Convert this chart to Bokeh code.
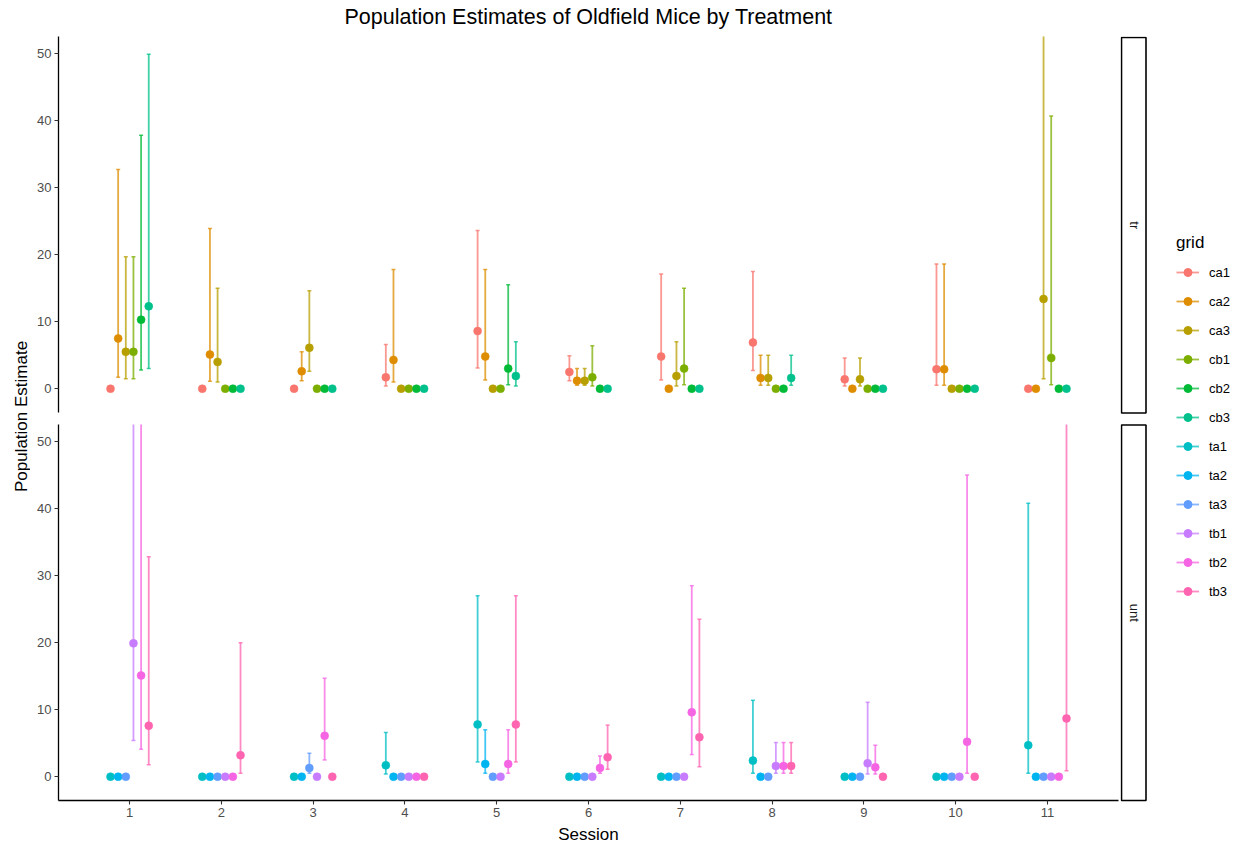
import math
from bokeh.plotting import figure
from bokeh.models import ColumnDataSource, Range1d, Label, FixedTicker, Legend, LegendItem
from bokeh.layouts import column, row
from bokeh.embed import file_html
from bokeh.resources import INLINE
from bokeh.transform import dodge
from bokeh.core.properties import value

FONT = "Liberation Sans"

sessions = [1, 2, 3, 4, 5, 6, 7, 8, 9, 10, 11]
tr_grids = ["ca1", "ca2", "ca3", "cb1", "cb2", "cb3"]
unt_grids = ["ta1", "ta2", "ta3", "tb1", "tb2", "tb3"]
grid_colors = ["#F8766D", "#DE8C00", "#B79F00", "#7CAE00", "#00BA38", "#00C08B",
               "#00BFC4", "#00B4F0", "#619CFF", "#C77CFF", "#F564E3", "#FF64B0"]
y_ticks = [0, 10, 20, 30, 40, 50]
N = None

# treatment "tr"
ca1_est = [0, 0, 0, 1.7, 8.6, 2.5, 4.8, 6.9, 1.4, 2.9, 0]
ca1_lo = [N, N, N, 0.4, 3.1, 1.2, 1.3, 2.7, 0.4, 0.5, N]
ca1_hi = [N, N, N, 6.6, 23.6, 4.9, 17.1, 17.5, 4.6, 18.6, N]
ca2_est = [7.5, 5.1, 2.6, 4.3, 4.8, 1.2, 0, 1.6, 0, 2.9, 0]
ca2_lo = [1.7, 1.1, 1.2, 1.0, 1.3, 0.5, N, 0.5, N, 0.5, N]
ca2_hi = [32.7, 23.9, 5.5, 17.8, 17.8, 3.0, N, 5.0, N, 18.6, N]
ca3_est = [5.5, 4.0, 6.1, 0, 0, 1.2, 1.9, 1.6, 1.4, 0, 13.4]
ca3_lo = [1.5, 1.0, 2.6, N, N, 0.5, 0.4, 0.5, 0.4, N, 1.5]
ca3_hi = [19.7, 15.0, 14.6, N, N, 3.0, 7.0, 5.0, 4.6, N, 62.0]
cb1_est = [5.5, 0, 0, 0, 0, 1.7, 3.0, 0, 0, 0, 4.6]
cb1_lo = [1.5, N, N, N, N, 0.4, 0.6, N, N, N, 0.6]
cb1_hi = [19.7, N, N, N, N, 6.4, 15.0, N, N, N, 40.7]
cb2_est = [10.3, 0, 0, 0, 3.0, 0, 0, 0, 0, 0, 0]
cb2_lo = [2.8, N, N, N, 0.6, N, N, N, N, N, N]
cb2_hi = [37.8, N, N, N, 15.5, N, N, N, N, N, N]
cb3_est = [12.3, 0, 0, 0, 1.9, 0, 0, 1.6, 0, 0, 0]
cb3_lo = [3.0, N, N, N, 0.4, N, N, 0.5, N, N, N]
cb3_hi = [49.9, N, N, N, 7.0, N, N, 5.0, N, N, N]

# untreated "unt"
ta1_est = [0, 0, 0, 1.7, 7.8, 0, 0, 2.4, 0, 0, 4.7]
ta1_lo = [N, N, N, 0.4, 2.2, N, N, 0.5, N, N, 0.5]
ta1_hi = [N, N, N, 6.6, 27.0, N, N, 11.4, N, N, 40.8]
ta2_est = [0, 0, 0, 0, 1.9, 0, 0, 0, 0, 0, 0]
ta2_lo = [N, N, N, N, 0.5, N, N, N, N, N, N]
ta2_hi = [N, N, N, N, 7.0, N, N, N, N, N, N]
ta3_est = [0, 0, 1.3, 0, 0, 0, 0, 0, 0, 0, 0]
ta3_lo = [N, N, 0.5, N, N, N, N, N, N, N, N]
ta3_hi = [N, N, 3.5, N, N, N, N, N, N, N, N]
tb1_est = [19.9, 0, 0, 0, 0, 0, 0, 1.6, 2.0, 0, 0]
tb1_lo = [5.4, N, N, N, N, N, N, 0.5, 0.4, N, N]
tb1_hi = [75.0, N, N, N, N, N, N, 5.1, 11.1, N, N]
tb2_est = [15.1, 0, 6.1, 0, 1.9, 1.3, 9.6, 1.6, 1.4, 5.2, 0]
tb2_lo = [4.1, N, 2.5, N, 0.5, 0.5, 3.3, 0.5, 0.4, 0.5, N]
tb2_hi = [65.0, N, 14.7, N, 7.0, 3.1, 28.5, 5.1, 4.7, 45.0, N]
tb3_est = [7.6, 3.2, 0, 0, 7.8, 2.9, 5.9, 1.6, 0, 0, 8.7]
tb3_lo = [1.8, 0.5, N, N, 2.2, 1.1, 1.5, 0.5, N, N, 0.9]
tb3_hi = [32.8, 20.0, N, N, 27.0, 7.7, 23.5, 5.1, N, N, 58.0]

tr_est = [ca1_est, ca2_est, ca3_est, cb1_est, cb2_est, cb3_est]
tr_lo = [ca1_lo, ca2_lo, ca3_lo, cb1_lo, cb2_lo, cb3_lo]
tr_hi = [ca1_hi, ca2_hi, ca3_hi, cb1_hi, cb2_hi, cb3_hi]
unt_est = [ta1_est, ta2_est, ta3_est, tb1_est, tb2_est, tb3_est]
unt_lo = [ta1_lo, ta2_lo, ta3_lo, tb1_lo, tb2_lo, tb3_lo]
unt_hi = [ta1_hi, ta2_hi, ta3_hi, tb1_hi, tb2_hi, tb3_hi]


def nan(v):
    return float("nan") if v is None else v


x_range = Range1d(0.225, 11.775)


def style_axis(ax):
    ax.axis_line_color = "black"
    ax.axis_line_width = 1.3
    ax.major_tick_line_color = "#333333"
    ax.major_tick_line_width = 1.1
    ax.major_tick_out = 4
    ax.major_tick_in = 0
    ax.minor_tick_line_color = None
    ax.major_label_text_color = "#4D4D4D"
    ax.major_label_text_font = FONT
    ax.major_label_text_font_size = "13px"
    ax.major_label_standoff = 3


def make_panel(grids, colors, est, lo, hi, height, top, bottom, show_x):
    p = figure(width=1090, height=height, x_range=x_range,
               y_range=Range1d(-3.55, 52.55), output_backend="svg",
               toolbar_location=None,
               x_axis_location="below" if show_x else None,
               min_border_left=28, min_border_right=2,
               min_border_top=top, min_border_bottom=bottom,
               outline_line_color=None)
    p.xgrid.visible = False
    p.ygrid.visible = False
    p.yaxis.ticker = FixedTicker(ticks=y_ticks)
    style_axis(p.yaxis[0])
    if show_x:
        p.xaxis.ticker = FixedTicker(ticks=sessions)
        style_axis(p.xaxis[0])
        p.xaxis.axis_label = "Session"
        p.xaxis.axis_label_text_font = FONT
        p.xaxis.axis_label_text_font_style = "normal"
        p.xaxis.axis_label_text_font_size = "17px"
        p.xaxis.axis_label_text_color = "black"
        p.xaxis.axis_label_standoff = 5
    n = len(grids)
    for k, g in enumerate(grids):
        off = (k - (n - 1) / 2) * 0.5 / n
        src = ColumnDataSource(dict(session=sessions, est=est[k],
                                    lo=[nan(v) for v in lo[k]],
                                    hi=[nan(v) for v in hi[k]]))
        xs = dodge("session", off)
        c = colors[k]
        p.segment(x0=xs, y0="lo", x1=xs, y1="hi", source=src,
                  line_color=c, line_width=1.8, line_alpha=0.75)
        p.scatter(x=xs, y="lo", source=src, marker="dash", size=4,
                  line_color=c, line_width=1.5, line_alpha=0.75)
        p.scatter(x=xs, y="hi", source=src, marker="dash", size=4,
                  line_color=c, line_width=1.5, line_alpha=0.75)
        p.scatter(x=xs, y="est", source=src, size=8, fill_color=c,
                  line_color=c, line_width=0.5)
    return p


top_fig = make_panel(tr_grids, grid_colors[:6], tr_est, tr_lo, tr_hi,
                     382, 0, 6, False)
bot_fig = make_panel(unt_grids, grid_colors[6:], unt_est, unt_lo, unt_hi,
                     429, 6, 47, True)


def blank(width, height):
    p = figure(width=width, height=height, x_range=Range1d(0, width),
               y_range=Range1d(height, 0), output_backend="svg",
               toolbar_location=None, x_axis_location=None,
               y_axis_location=None, min_border=0, outline_line_color=None)
    p.xgrid.visible = False
    p.ygrid.visible = False
    return p


# title
title_fig = blank(1241, 36)
title_fig.add_layout(Label(x=588, y=16, text="Population Estimates of Oldfield Mice by Treatment",
                           text_font=FONT, text_font_size="21.5px", text_color="black",
                           text_align="center", text_baseline="middle"))

# y axis title
ylab_fig = blank(30, 811)
ylab_fig.text(x=[21], y=[380], text=["Population Estimate"], angle=math.pi / 2,
              text_font=value(FONT), text_font_size="17px", text_color="black",
              text_align="center", text_baseline="middle")


# facet strips
def strip(height, y0, y1, text):
    p = blank(27, height)
    p.quad(left=[1.0], right=[25.5], top=[y0], bottom=[y1], fill_color="white",
           line_color="black", line_width=1.6)
    p.add_layout(Label(x=13.5, y=(y0 + y1) / 2, text=text, angle=-math.pi / 2,
                       text_font=FONT, text_font_size="13px", text_color="#1A1A1A",
                       text_align="center", text_baseline="middle"))
    return p


strip_top = strip(382, 1.0, 376.5, "tr")
strip_bot = strip(429, 6.5, 382.0, "unt")

# legend
leg_fig = figure(width=94, height=811, output_backend="svg", toolbar_location=None,
                 x_axis_location=None, y_axis_location=None,
                 min_border_left=29, min_border_top=197, min_border_right=0,
                 min_border_bottom=0, outline_line_color=None,
                 x_range=Range1d(0, 1), y_range=Range1d(0, 1))
leg_fig.xgrid.visible = False
leg_fig.ygrid.visible = False
items = []
for g, c in zip(tr_grids + unt_grids, grid_colors):
    r1 = leg_fig.line(x=[5, 6], y=[5, 6], line_color=c, line_width=1.8, line_alpha=0.75)
    r2 = leg_fig.scatter(x=[5], y=[5], size=8, fill_color=c, line_color=c)
    items.append(LegendItem(label=g, renderers=[r1, r2]))
legend = Legend(items=items, location="top_left", title="grid",
                title_text_font=FONT, title_text_font_size="17px",
                title_text_font_style="normal", title_text_color="black",
                title_standoff=9,
                label_text_font=FONT, label_text_font_size="13px",
                label_text_color="black", label_standoff=10,
                glyph_width=23, glyph_height=20, label_height=20,
                spacing=9, padding=0, margin=0, border_line_color=None,
                background_fill_alpha=0)
leg_fig.add_layout(legend, "center")

layout = column(title_fig,
                row(column(ylab_fig), column(top_fig, bot_fig),
                    column(strip_top, strip_bot), column(leg_fig)))

open("out.html", "w").write(file_html(layout, INLINE))
